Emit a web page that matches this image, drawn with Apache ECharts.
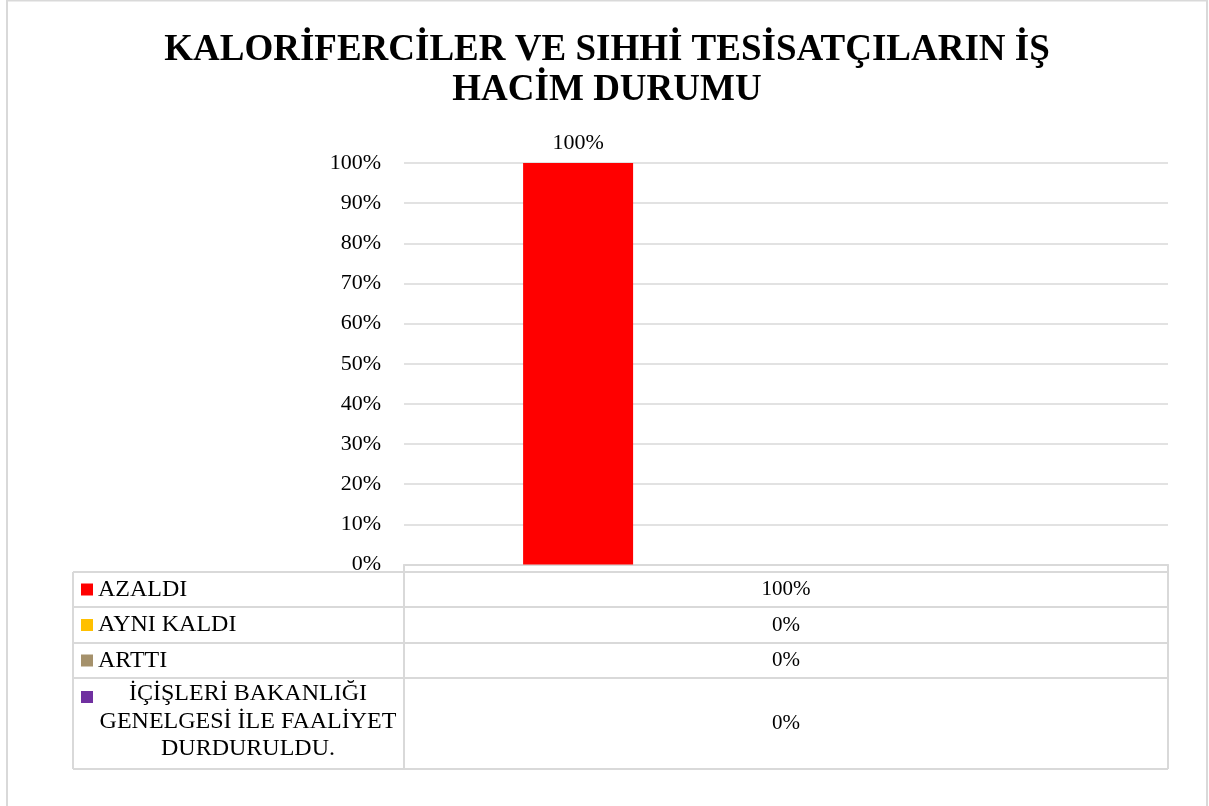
<!DOCTYPE html>
<html>
<head>
<meta charset="utf-8">
<script src="https://cdn.jsdelivr.net/npm/echarts@6/dist/echarts.min.js"></script>
<style>
html,body{margin:0;padding:0;background:#fff;}
#c{width:1209px;height:806px;}
</style>
</head>
<body>
<div id="c"></div>
<script>
const titleLines = ['KALORİFERCİLER VE SIHHİ TESİSATÇILARIN İŞ', 'HACİM DURUMU'];
const categories = [''];
const seriesNames = ['AZALDI', 'AYNI KALDI', 'ARTTI', 'İÇİŞLERİ BAKANLIĞI\nGENELGESİ İLE FAALİYET\nDURDURULDU.'];
const seriesColors = ['#FF0000', '#FFC000', '#A5916B', '#7030A0'];
const valAzaldi = [1.00];
const valAyniKaldi = [0.00];
const valArtti = [0.00];
const valDurduruldu = [0.00];
const allValues = [valAzaldi, valAyniKaldi, valArtti, valDurduruldu];
const yTicks = [0, 0.1, 0.2, 0.3, 0.4, 0.5, 0.6, 0.7, 0.8, 0.9, 1.0];

const FONT = '"Liberation Serif", "Times New Roman", serif';
const pct = v => Math.round(v * 100) + '%';

const chart = echarts.init(document.getElementById('c'), null, {renderer: 'canvas'});

// layout of plot + data table
const L = {plotLeft: 404, plotRight: 1168, plotTop: 163, plotBottom: 564.5,
           tableLeft: 73, tableTop: 572, rowH: [35, 36, 35, 91]};

const series = seriesNames.map((n, i) => ({
  name: n,
  type: 'bar',
  data: allValues[i],
  barWidth: 110,
  barGap: '26%',
  itemStyle: {color: seriesColors[i]},
  label: i === 0 ? {show: true, position: 'top', distance: 9, formatter: p => pct(p.value),
         fontFamily: FONT, fontSize: 22, color: '#000'} : {show: false}
}));

// data table graphics
const graphics = [];
const lineStyle = {stroke: '#D9D9D9', lineWidth: 2};
let y = L.tableTop;
const rowYs = [y];
L.rowH.forEach(h => { y += h; rowYs.push(y); });
rowYs.forEach(ry => graphics.push({type: 'line', shape: {x1: L.tableLeft, y1: ry, x2: L.plotRight, y2: ry}, style: lineStyle, silent: true}));
graphics.push({type: 'line', shape: {x1: L.tableLeft, y1: L.tableTop, x2: L.tableLeft, y2: y}, style: lineStyle, silent: true});
graphics.push({type: 'line', shape: {x1: L.plotLeft, y1: L.plotBottom, x2: L.plotLeft, y2: y}, style: lineStyle, silent: true});
graphics.push({type: 'line', shape: {x1: L.plotRight, y1: L.plotBottom, x2: L.plotRight, y2: y}, style: lineStyle, silent: true});
// outer chart border
graphics.push({type: 'rect', shape: {x: 7, y: 0.5, width: 1200, height: 820}, style: {fill: 'none', stroke: '#D9D9D9', lineWidth: 2}, silent: true});

seriesNames.forEach((n, i) => {
  const top = rowYs[i], h = L.rowH[i];
  const cy = top + h / 2;
  const multi = n.indexOf('\n') >= 0;
  graphics.push({type: 'rect', shape: {x: 81, y: multi ? top + 13 : cy - 6, width: 12, height: 12}, style: {fill: seriesColors[i]}, silent: true});
  graphics.push({type: 'text', x: multi ? 248 : 98, y: cy - (multi ? 2 : 0),
    style: {text: n, font: '24px ' + FONT, fill: '#000', textAlign: multi ? 'center' : 'left', textVerticalAlign: 'middle', lineHeight: 27.5}, silent: true});
  graphics.push({type: 'text', x: (L.plotLeft + L.plotRight) / 2, y: cy,
    style: {text: pct(allValues[i][0]), font: '21px ' + FONT, fill: '#000', textAlign: 'center', textVerticalAlign: 'middle'}, silent: true});
});

graphics.push({type: 'text', x: 607, y: 70,
  style: {text: titleLines.join('\n'), font: 'bold 37px ' + FONT, fill: '#000', textAlign: 'center', textVerticalAlign: 'middle', lineHeight: 40}, silent: true});

chart.setOption({
  animation: false,
  backgroundColor: '#fff',
  grid: {left: L.plotLeft, right: 1209 - L.plotRight, top: L.plotTop, bottom: 806 - L.plotBottom},
  xAxis: {type: 'category', data: categories,
    axisLine: {show: true, lineStyle: {color: '#D9D9D9', width: 2}},
    axisTick: {show: false}, axisLabel: {show: false}},
  yAxis: {type: 'value', min: yTicks[0], max: yTicks[yTicks.length - 1], interval: 0.1,
    axisLine: {show: false}, axisTick: {show: false},
    splitLine: {lineStyle: {color: '#D9D9D9', width: 1.5}},
    axisLabel: {formatter: v => pct(v), fontFamily: FONT, fontSize: 22, color: '#000', margin: 23}},
  series: series,
  graphic: graphics
});
</script>
</body>
</html>
